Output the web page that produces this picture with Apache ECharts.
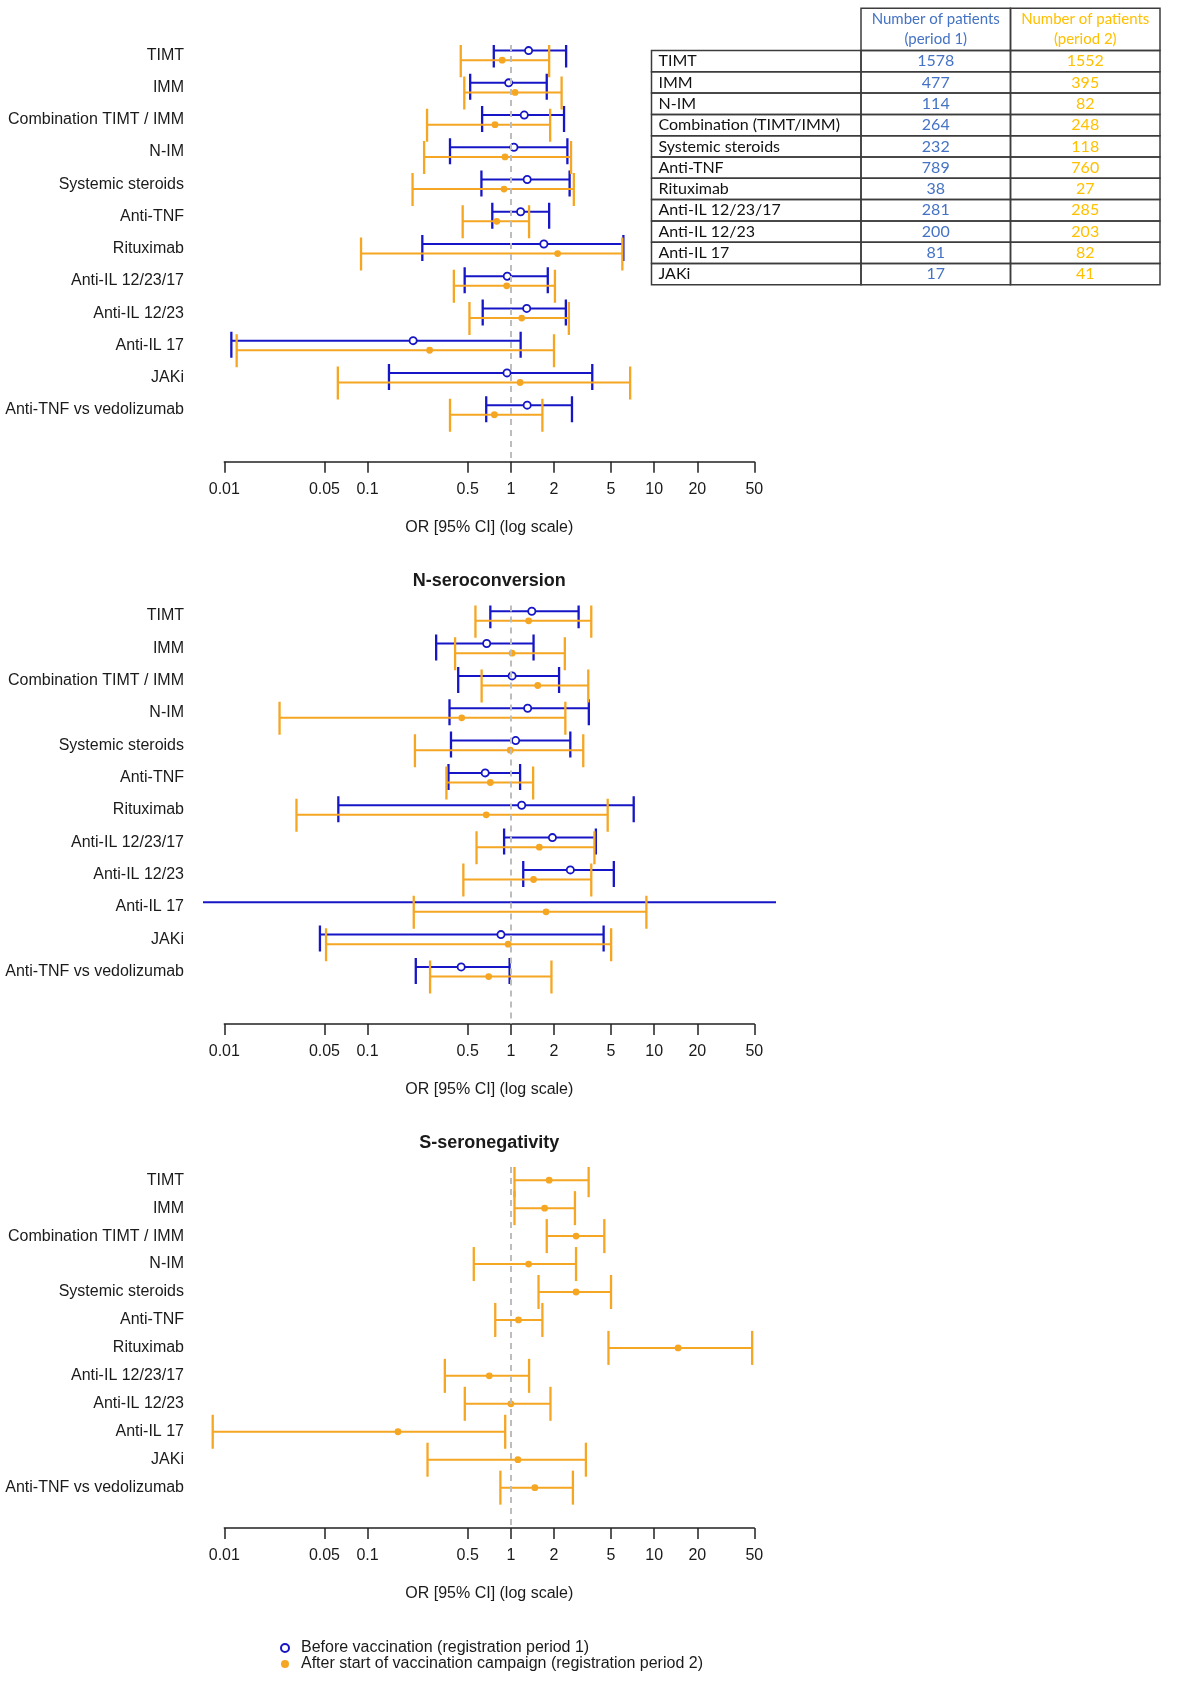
<!DOCTYPE html>
<html>
<head>
<meta charset="utf-8">
<script src="https://cdn.jsdelivr.net/npm/echarts@6/dist/echarts.min.js"></script>
<style>html,body{margin:0;padding:0;background:#fff}#c{width:1181px;height:1681px}</style>
</head>
<body>
<div id="c"></div>
<script>
// ---------------- DATA ----------------
const categories = ['TIMT', 'IMM', 'Combination TIMT / IMM', 'N-IM', 'Systemic steroids', 'Anti-TNF',
  'Rituximab', 'Anti-IL 12/23/17', 'Anti-IL 12/23', 'Anti-IL 17', 'JAKi', 'Anti-TNF vs vedolizumab'];
const tickValues = [0.01, 0.05, 0.1, 0.5, 1, 2, 5, 10, 20, 50];
const tickLabels = ['0.01', '0.05', '0.1', '0.5', '1', '2', '5', '10', '20', '50'];
const legendNames = ['Before vaccination (registration period 1)', 'After start of vaccination campaign (registration period 2)'];
const panelTitles = ['', 'N-seroconversion', 'S-seronegativity'];
const axisTitle = 'OR [95% CI] (log scale)';

// [lower CI, OR, upper CI] per category
const p1Period1 = [[0.76,1.33,2.43],[0.52,0.965,1.78],[0.63,1.24,2.35],[0.376,1.05,2.48],[0.623,1.30,2.57],[0.742,1.17,1.85],
  [0.241,1.70,6.1],[0.476,0.944,1.81],[0.636,1.29,2.42],[0.0112,0.208,1.17],[0.141,0.94,3.70],[0.673,1.30,2.67]];
const p1Period2 = [[0.447,0.87,1.85],[0.473,1.07,2.26],[0.26,0.775,1.88],[0.248,0.91,2.63],[0.206,0.896,2.75],[0.461,0.797,1.34],
  [0.090,2.12,6.0],[0.40,0.935,2.03],[0.514,1.19,2.54],[0.0122,0.271,2.0],[0.062,1.16,6.8],[0.376,0.767,1.66]];
const p2Period1 = [[0.719,1.40,2.97],[0.301,0.678,1.44],[0.429,1.02,2.17],[0.373,1.31,3.50],[0.382,1.08,2.60],[0.367,0.662,1.16],
  [0.0625,1.19,7.2],[0.897,1.95,3.92],[1.22,2.60,5.23],[0.0001,null,1000],[0.0465,0.853,4.44],[0.217,0.45,0.98]];
const p2Period2 = [[0.566,1.33,3.64],[0.408,1.02,2.38],[0.625,1.54,3.47],[0.0243,0.454,2.40],[0.214,0.99,3.20],[0.355,0.719,1.43],
  [0.0319,0.673,4.74],[0.576,1.58,3.83],[0.466,1.44,3.64],[0.210,1.76,8.83],[0.0513,0.958,5.01],[0.273,0.70,1.92]];
const p3Period2 = [[1.06,1.85,3.49],[1.06,1.72,2.80],[1.78,2.85,4.49],[0.551,1.33,2.85],[1.56,2.85,5.0],[0.778,1.13,1.66],
  [4.80,14.7,48.3],[0.346,0.707,1.34],[0.477,1.0,1.89],[0.0083,0.163,0.913],[0.262,1.12,3.34],[0.845,1.47,2.71]];

const tableRows = ['TIMT', 'IMM', 'N-IM', 'Combination (TIMT/IMM)', 'Systemic steroids', 'Anti-TNF', 'Rituximab',
  'Anti-IL 12/23/17', 'Anti-IL 12/23', 'Anti-IL 17', 'JAKi'];
const period1Counts = [1578, 477, 114, 264, 232, 789, 38, 281, 200, 81, 17];
const period2Counts = [1552, 395, 82, 248, 118, 760, 27, 285, 203, 82, 41];
const tableHeaders = ['Number of patients\n(period 1)', 'Number of patients\n(period 2)'];

// ---------------- STYLE / LAYOUT ----------------
const BLUE = '#1616C6', ORANGE = '#F5A623', TXT = '#1a1a1a';
const FONT = '"Liberation Sans", Arial, sans-serif';
const TFONT = 'Lato, "Open Sans", sans-serif';
const AX_LEFT = 224.3, AX_RIGHT = 754.3, PLOT_LEFT = 203, PLOT_RIGHT = 775.5;
const ppd = (AX_RIGHT - AX_LEFT) / Math.log10(50 / 0.01);
const xMinWide = Math.pow(10, -2 - (AX_LEFT - PLOT_LEFT) / ppd);
const xMaxWide = Math.pow(10, Math.log10(50) + (PLOT_RIGHT - AX_RIGHT) / ppd);

const panels = [
  { top: 45, axisY: 461.7, row0: 55.4, step: 32.23, titleY: 0,
    sets: [{ d: p1Period1, s: 0, off: -4.8, up: 9, down: 17 }, { d: p1Period2, s: 1, off: 4.8, up: 16, down: 17 }] },
  { top: 605.6, axisY: 1024, row0: 616, step: 32.34, titleY: 582.7,
    sets: [{ d: p2Period1, s: 0, off: -4.8, up: 9, down: 17 }, { d: p2Period2, s: 1, off: 4.8, up: 16, down: 17 }] },
  { top: 1167, axisY: 1528, row0: 1180.2, step: 27.95, titleY: 1145,
    sets: [{ d: p3Period2, s: 1, off: 0, up: 17, down: 17 }] }
];

function labelFor(v) {
  let best = 0;
  for (let i = 0; i < tickValues.length; i++) {
    if (Math.abs(Math.log(tickValues[i]) - Math.log(v)) < Math.abs(Math.log(tickValues[best]) - Math.log(v))) best = i;
  }
  return tickLabels[best];
}

function makeRender(set) {
  const color = set.s === 0 ? BLUE : ORANGE;
  return function (params, api) {
    const row = api.value(0), lo = api.value(1), or = api.value(2), hi = api.value(3);
    const pL = api.coord([lo, row]);
    const pH = api.coord([hi, row]);
    const y = pL[1] + set.off;
    const ls = { stroke: color, lineWidth: 2 };
    const children = [
      { type: 'line', shape: { x1: pL[0], y1: y, x2: pH[0], y2: y }, style: ls },
      { type: 'line', shape: { x1: pL[0], y1: y - set.up, x2: pL[0], y2: y + set.down }, style: { stroke: color, lineWidth: 2.3 } },
      { type: 'line', shape: { x1: pH[0], y1: y - set.up, x2: pH[0], y2: y + set.down }, style: { stroke: color, lineWidth: 2.3 } }
    ];
    if (!isNaN(or)) {
      const pc = api.coord([or, row]);
      if (set.s === 0) {
        children.push({ type: 'circle', shape: { cx: pc[0], cy: y, r: 3.6 }, style: { fill: '#fff', stroke: color, lineWidth: 1.8 } });
      } else {
        children.push({ type: 'circle', shape: { cx: pc[0], cy: y, r: 3.4 }, style: { fill: color } });
      }
    }
    return { type: 'group', children: children };
  };
}

const grid = [], xAxis = [], yAxis = [], series = [], title = [];
panels.forEach((p, pi) => {
  const gi = grid.length;
  grid.push({ left: PLOT_LEFT, width: PLOT_RIGHT - PLOT_LEFT, top: p.top, height: p.axisY - p.top, outerBoundsMode: 'none' });
  grid.push({ left: AX_LEFT, width: AX_RIGHT - AX_LEFT, top: p.axisY - 10, height: 10, outerBoundsMode: 'none' });
  xAxis.push({ gridIndex: gi, type: 'log', logBase: 10, min: xMinWide, max: xMaxWide, show: false });
  xAxis.push({
    gridIndex: gi + 1, type: 'log', logBase: 10, min: 0.01, max: 50, position: 'bottom',
    axisLine: { show: true, lineStyle: { color: '#222', width: 1.5 } },
    axisTick: { show: true, customValues: tickValues, length: 11, lineStyle: { color: '#222', width: 1.5 } },
    axisLabel: { customValues: tickValues, formatter: labelFor, margin: 20, fontSize: 16, color: TXT, fontFamily: FONT },
    splitLine: { show: false }, minorTick: { show: false },
    name: axisTitle, nameLocation: 'middle', nameGap: 58,
    nameTextStyle: { fontSize: 16, color: TXT, fontFamily: FONT }
  });
  yAxis.push({
    gridIndex: gi, type: 'value', inverse: true,
    min: -(p.row0 - p.top) / p.step, max: (p.axisY - p.row0) / p.step,
    axisLine: { show: false }, axisTick: { show: false }, splitLine: { show: false },
    axisLabel: { customValues: categories.map((c, i) => i), formatter: v => categories[Math.round(v)] || '',
      margin: 19, fontSize: 16, color: TXT, fontFamily: FONT }
  });
  yAxis.push({ gridIndex: gi + 1, type: 'value', show: false });
  const xi = gi, yi = gi;
  series.push({
    type: 'line', xAxisIndex: xi, yAxisIndex: yi, data: [], z: 1, silent: true,
    markLine: { silent: true, symbol: ['none', 'none'], label: { show: false },
      lineStyle: { type: [6, 5], color: '#bdbdbd', width: 2 }, data: [{ xAxis: 1 }] }
  });
  p.sets.forEach(set => {
    series.push({
      type: 'custom', name: legendNames[set.s], xAxisIndex: xi, yAxisIndex: yi, clip: true, z: 3,
      itemStyle: { color: set.s === 0 ? BLUE : ORANGE },
      renderItem: makeRender(set),
      encode: { x: [1, 2, 3], y: 0 },
      data: set.d.map((r, i) => [i, r[0], r[1] == null ? '-' : r[1], r[2]])
    });
  });
  if (panelTitles[pi]) {
    title.push({ text: panelTitles[pi], left: (PLOT_LEFT + PLOT_RIGHT) / 2, textAlign: 'center', top: p.titleY - 11, padding: 0,
      textStyle: { fontSize: 18, fontWeight: 'bold', color: TXT, fontFamily: FONT } });
  }
});

// ---------------- TABLE (graphic) ----------------
const T = { left: 651.5, c1: 861, c2: 1010.5, right: 1160, top: 8.3, headBottom: 50.5, rowH: 21.3 };
const tEls = [];
const border = { fill: 'none', stroke: '#3c3c3c', lineWidth: 1.5 };
const colColors = ['#4472C4', '#FFC000'];
[[T.c1, T.c2], [T.c2, T.right]].forEach((c, k) => {
  tEls.push({ type: 'rect', shape: { x: c[0], y: T.top, width: c[1] - c[0], height: T.headBottom - T.top }, style: border });
  tEls.push({ type: 'text', x: (c[0] + c[1]) / 2, y: (T.top + T.headBottom) / 2,
    style: { text: tableHeaders[k], fill: colColors[k], font: '15px ' + TFONT, align: 'center', verticalAlign: 'middle', lineHeight: 20 } });
});
tableRows.forEach((name, i) => {
  const y0 = T.headBottom + i * T.rowH, yc = y0 + T.rowH / 2;
  [[T.left, T.c1], [T.c1, T.c2], [T.c2, T.right]].forEach(c => {
    tEls.push({ type: 'rect', shape: { x: c[0], y: y0, width: c[1] - c[0], height: T.rowH }, style: border });
  });
  tEls.push({ type: 'text', x: T.left + 7, y: yc, style: { text: name, fill: '#111', font: '16px ' + TFONT, align: 'left', verticalAlign: 'middle' } });
  tEls.push({ type: 'text', x: (T.c1 + T.c2) / 2, y: yc, style: { text: String(period1Counts[i]), fill: colColors[0], font: '16px ' + TFONT, align: 'center', verticalAlign: 'middle' } });
  tEls.push({ type: 'text', x: (T.c2 + T.right) / 2, y: yc, style: { text: String(period2Counts[i]), fill: colColors[1], font: '16px ' + TFONT, align: 'center', verticalAlign: 'middle' } });
});

const option = {
  backgroundColor: '#fff',
  animation: false,
  title: title,
  grid: grid, xAxis: xAxis, yAxis: yAxis, series: series,
  legend: {
    orient: 'vertical', left: 280, top: 1640, padding: 0, itemGap: 0, itemWidth: 22, itemHeight: 8,
    selectedMode: false,
    textStyle: { fontSize: 16, lineHeight: 16, color: TXT, fontFamily: FONT },
    data: [
      { name: legendNames[0], icon: 'circle', itemStyle: { color: '#fff', borderColor: BLUE, borderWidth: 2 } },
      { name: legendNames[1], icon: 'circle', itemStyle: { color: ORANGE, borderWidth: 0 } }
    ]
  },
  graphic: tEls
};

const chart = echarts.init(document.getElementById('c'), null, { renderer: 'canvas' });
chart.setOption(option);
</script>
</body>
</html>
